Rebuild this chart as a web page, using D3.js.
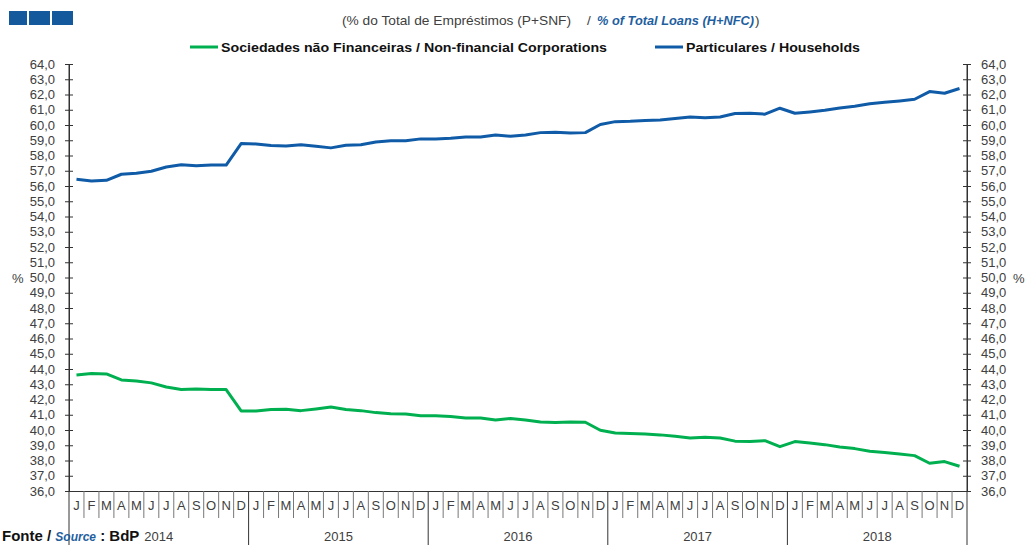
<!DOCTYPE html>
<html>
<head>
<meta charset="utf-8">
<script src="https://cdn.jsdelivr.net/npm/d3@7"></script>
<style>
  body { margin: 0; background: #fff; }
  svg { font-family: "Liberation Sans", Arial, sans-serif; display: block; }
</style>
</head>
<body>
<svg id="chart" width="1025" height="545"></svg>
<script>
//----------------
// Data
//----------------

const years = [2014, 2015, 2016, 2017, 2018];
const monthLetters = ["J", "F", "M", "A", "M", "J", "J", "A", "S", "O", "N", "D"];
const yTickValues = d3.range(36, 65, 1);

// Particulares / Households (% of total loans)
const households = [
  56.44, 56.33, 56.37, 56.77, 56.84, 56.97, 57.25, 57.40, 57.32, 57.37, 57.37, 58.78,
  58.76, 58.65, 58.63, 58.71, 58.61, 58.50, 58.67, 58.71, 58.89, 58.96, 58.96, 59.09,
  59.09, 59.13, 59.22, 59.22, 59.35, 59.26, 59.35, 59.50, 59.52, 59.48, 59.50, 60.03,
  60.22, 60.24, 60.29, 60.33, 60.42, 60.53, 60.48, 60.53, 60.75, 60.77, 60.71, 61.10,
  60.77, 60.86, 60.97, 61.12, 61.23, 61.40, 61.49, 61.58, 61.69, 62.19, 62.08, 62.39
];

// Sociedades nao Financeiras / Non-financial Corporations
const corporations = [
  43.61, 43.70, 43.68, 43.28, 43.22, 43.09, 42.82, 42.65, 42.69, 42.65, 42.65, 41.25,
  41.25, 41.34, 41.36, 41.27, 41.38, 41.51, 41.34, 41.27, 41.14, 41.07, 41.05, 40.93,
  40.93, 40.88, 40.79, 40.79, 40.66, 40.75, 40.66, 40.52, 40.49, 40.53, 40.51, 39.98,
  39.80, 39.77, 39.73, 39.68, 39.59, 39.48, 39.53, 39.48, 39.27, 39.24, 39.30, 38.91,
  39.24, 39.15, 39.04, 38.89, 38.78, 38.61, 38.52, 38.43, 38.32, 37.82, 37.93, 37.62
];

//----------------
// Constants
//----------------

const plot = {left: 69, right: 967, top: 64, bottom: 491};
const greenColor = "#00b050";
const blueColor = "#0f5ba7";
const textColor = "#404040";
const fmt = v => d3.format(".1f")(v).replace(".", ",");

const svg = d3.select("#chart");

//----------------
// Scales
//----------------

const x = d3.scaleBand()
  .domain(d3.range(households.length))
  .range([plot.left, plot.right]);

const y = d3.scaleLinear()
  .domain([36, 64])
  .range([plot.bottom, plot.top]);

//----------------
// Header
//----------------

function drawHeader() {
  // logo: three blue squares
  svg.append("g").selectAll("rect")
    .data([[9, 18], [29, 21], [52, 21]])
    .enter().append("rect")
      .attr("x", d => d[0]).attr("y", 11)
      .attr("width", d => d[1]).attr("height", 14)
      .attr("fill", "#14599b");

  // title, in three pieces
  var title = svg.append("g").attr("id", "title");
  title.append("text")
    .attr("x", 342).attr("y", 25)
    .attr("font-size", 13.5).attr("fill", textColor)
    .attr("textLength", 229).attr("lengthAdjust", "spacingAndGlyphs")
    .text("(% do Total de Empréstimos (P+SNF)");
  title.append("text")
    .attr("x", 587).attr("y", 25)
    .attr("font-size", 13.5).attr("fill", textColor)
    .text("/");
  title.append("text")
    .attr("x", 597).attr("y", 25)
    .attr("font-size", 12.5)
    .attr("font-weight", "bold").attr("font-style", "italic")
    .attr("fill", "#1f5f9f")
    .attr("textLength", 157).attr("lengthAdjust", "spacingAndGlyphs")
    .text("% of Total Loans (H+NFC)");
  title.append("text")
    .attr("x", 755).attr("y", 25)
    .attr("font-size", 13.5).attr("fill", textColor)
    .text(")");

  // legend
  var legendItems = [
    {x: 190, w: 28, color: greenColor, label: "Sociedades não Financeiras / Non-financial Corporations", len: 386},
    {x: 655, w: 28, color: blueColor, label: "Particulares / Households", len: 174}
  ];
  var legend = svg.append("g").attr("id", "legend");
  legend.selectAll("line")
    .data(legendItems)
    .enter().append("line")
      .attr("x1", d => d.x).attr("x2", d => d.x + d.w)
      .attr("y1", 47).attr("y2", 47)
      .attr("stroke", d => d.color)
      .attr("stroke-width", 3);
  legend.selectAll("text")
    .data(legendItems)
    .enter().append("text")
      .attr("x", d => d.x + d.w + 3)
      .attr("y", 52)
      .attr("font-size", 13)
      .attr("font-weight", "bold")
      .attr("fill", "#111")
      .attr("textLength", d => d.len)
      .attr("lengthAdjust", "spacingAndGlyphs")
      .text(d => d.label);
}

//----------------
// Axes
//----------------

function drawAxes() {
  var left = svg.append("g")
    .attr("transform", "translate(" + plot.left + ",0)")
    .call(d3.axisLeft(y).tickValues(yTickValues).tickFormat(fmt)
      .tickSize(4).tickPadding(10).tickSizeOuter(0));

  var right = svg.append("g")
    .attr("transform", "translate(" + plot.right + ",0)")
    .call(d3.axisRight(y).tickValues(yTickValues).tickFormat(fmt)
      .tickSize(4).tickPadding(10).tickSizeOuter(0));

  // ticks cross the axis line
  left.selectAll(".tick line").attr("x1", 4);
  right.selectAll(".tick line").attr("x1", -4);

  [left, right].forEach(function(g) {
    g.select(".domain").attr("stroke", "#333");
    g.selectAll(".tick line").attr("stroke", "#333");
    g.selectAll(".tick text")
      .attr("font-size", 13)
      .attr("font-family", "Liberation Sans, Arial, sans-serif")
      .attr("fill", textColor);
  });

  // % unit labels
  svg.append("text").attr("x", 12).attr("y", y(50) + 5)
    .attr("font-size", 13).attr("fill", textColor).text("%");
  svg.append("text").attr("x", 1013).attr("y", y(50) + 5)
    .attr("font-size", 13).attr("fill", textColor).text("%");

  // bottom axis: months
  var bottom = svg.append("g")
    .attr("transform", "translate(0," + plot.bottom + ")")
    .call(d3.axisBottom(x).tickFormat(i => monthLetters[i % 12])
      .tickSize(0).tickPadding(10));
  bottom.select(".domain").attr("stroke", "#333");
  bottom.selectAll(".tick text")
    .attr("font-size", 13)
    .attr("font-family", "Liberation Sans, Arial, sans-serif")
    .attr("fill", textColor);

  // month separators
  svg.append("g").selectAll("line")
    .data(d3.range(1, households.length).filter(i => i % 12 != 0))
    .enter().append("line")
      .attr("x1", i => x(i)).attr("x2", i => x(i))
      .attr("y1", plot.bottom).attr("y2", 518)
      .attr("stroke", "#777");

  // year separators and labels
  var yearEdges = d3.range(0, years.length + 1).map(k => k * 12);
  svg.append("g").selectAll("line")
    .data(yearEdges)
    .enter().append("line")
      .attr("x1", i => i < households.length ? x(i) : plot.right)
      .attr("x2", i => i < households.length ? x(i) : plot.right)
      .attr("y1", i => (i == 0 || i == households.length) ? plot.top : plot.bottom)
      .attr("y2", 545)
      .attr("stroke", "#333");

  svg.append("g").selectAll("text")
    .data(years)
    .enter().append("text")
      .attr("x", (d, k) => (x(k * 12) + (k * 12 + 12 < households.length ? x(k * 12 + 12) : plot.right)) / 2)
      .attr("y", 541)
      .attr("text-anchor", "middle")
      .attr("font-size", 13)
      .attr("fill", textColor)
      .text(d => d);
}

//----------------
// Lines
//----------------

function drawLines() {
  var line = d3.line()
    .x((d, i) => x(i) + x.bandwidth() / 2)
    .y(d => y(d));

  svg.append("path")
    .datum(corporations)
    .attr("fill", "none")
    .attr("stroke", greenColor)
    .attr("stroke-width", 3)
    .attr("stroke-linejoin", "round")
    .attr("d", line);

  svg.append("path")
    .datum(households)
    .attr("fill", "none")
    .attr("stroke", blueColor)
    .attr("stroke-width", 3)
    .attr("stroke-linejoin", "round")
    .attr("d", line);
}

//----------------
// Footer
//----------------

function drawFooter() {
  var foot = svg.append("text")
    .attr("x", 2).attr("y", 541)
    .attr("font-size", 15)
    .attr("font-weight", "bold")
    .attr("fill", "#111");
  foot.append("tspan").text("Fonte / ");
  foot.append("tspan")
    .attr("font-style", "italic").attr("font-size", 12)
    .attr("fill", "#1f5f9f").text("Source");
  foot.append("tspan").text(" : BdP");
}

drawHeader();
drawAxes();
drawLines();
drawFooter();
</script>
</body>
</html>
